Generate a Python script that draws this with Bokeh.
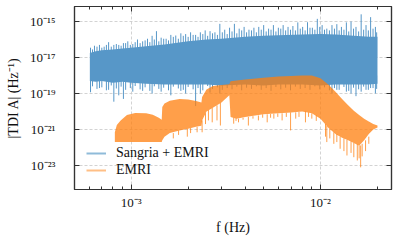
import numpy as np
from bokeh.plotting import figure
from bokeh.models import (FixedTicker, CustomJSTickFormatter, LogAxis, Legend,
                          LegendItem, Range1d, CustomLabelingPolicy)
from bokeh.embed import file_html
from bokeh.resources import INLINE

# ---------------- data ----------------
blue_f = [6.05e-4, 6.5e-4, 7e-4, 8e-4, 9e-4, 1e-3, 1.2e-3, 1.5e-3, 2e-3, 2.5e-3,
          3e-3, 4e-3, 5e-3, 6e-3, 8e-3, 1e-2, 1.2e-2, 1.5e-2, 1.8e-2, 2.0e-2]
blue_top = [1.78e-17, 2.24e-17, 2.5e-17, 2.8e-17, 3.2e-17, 3.5e-17, 4.2e-17, 5.2e-17,
            8.0e-17, 1.0e-16, 1.1e-16, 1.4e-16, 1.6e-16, 1.7e-16, 1.9e-16, 2.0e-16,
            1.9e-16, 1.6e-16, 1.4e-16, 1.4e-16]
blue_bot = [5.0e-19, 4.5e-19, 5.0e-19, 4.0e-19, 4.5e-19, 4.0e-19, 3.5e-19, 3.2e-19,
            3.2e-19, 3.2e-19, 2.8e-19, 3.2e-19, 2.8e-19, 3.2e-19, 3.2e-19, 2.8e-19,
            3.2e-19, 3.2e-19, 3.2e-19, 3.5e-19]

blue_spike_f = [6.1e-4, 6.4e-4, 6.8e-4, 7.2e-4, 7.6e-4, 8.1e-4, 8.6e-4, 9.1e-4, 9.6e-4,
                1.02e-3, 1.08e-3, 1.15e-3, 1.22e-3, 1.29e-3, 1.36e-3, 1.44e-3, 1.53e-3,
                1.62e-3, 1.72e-3, 1.83e-3, 1.94e-3, 2.06e-3, 2.19e-3, 2.32e-3, 2.46e-3,
                2.61e-3, 2.77e-3, 2.94e-3, 3.12e-3, 3.31e-3, 3.51e-3, 3.72e-3, 3.95e-3,
                4.19e-3, 4.45e-3, 4.72e-3, 5.01e-3, 5.32e-3, 5.64e-3, 5.99e-3, 6.35e-3,
                6.74e-3, 7.15e-3, 7.59e-3, 8.05e-3, 8.54e-3, 9.06e-3, 9.62e-3, 1.02e-2,
                1.08e-2, 1.15e-2, 1.22e-2, 1.29e-2, 1.37e-2, 1.45e-2, 1.54e-2, 1.64e-2,
                1.74e-2, 1.84e-2, 1.95e-2]
blue_spike_peak = [3.5e-17, 4.5e-17, 5.0e-17, 4.0e-17, 7.1e-17, 5.0e-17, 5.0e-17, 6.3e-17,
                   7.9e-17, 5.6e-17, 1.0e-16, 7.9e-17, 1.1e-16, 1.6e-16, 2.9e-16, 1.26e-16,
                   1.1e-16, 1.8e-16, 1.66e-16, 2.2e-16, 2.0e-16, 2.5e-16, 1.8e-16, 2.5e-16,
                   3.2e-16, 2.9e-16, 2.5e-16, 7.4e-16, 3.5e-16, 4.5e-16, 7.4e-16, 4.0e-16,
                   5.0e-16, 3.5e-16, 4.5e-16, 5.0e-16, 6.3e-16, 4.0e-16, 6.3e-16, 4.5e-16,
                   6.3e-16, 5.0e-16, 5.6e-16, 8.9e-16, 5.0e-16, 9.1e-16, 4.5e-16, 1.4e-15,
                   6.3e-16, 4.0e-16, 6.3e-16, 7.1e-16, 5.0e-16, 8.9e-16, 1.0e-15, 5.0e-16,
                   2.5e-15, 6.3e-16, 1.74e-15, 5.0e-16]
blue_dip_f = [6.1e-4, 6.8e-4, 7.6e-4, 8.1e-4, 8.6e-4, 9.1e-4, 1.02e-3, 1.15e-3, 1.29e-3,
              1.44e-3, 1.62e-3, 1.83e-3, 1.94e-3, 2.19e-3, 2.32e-3, 2.61e-3, 2.94e-3,
              1.15e-2, 1.22e-2, 1.37e-2, 1.45e-2, 1.54e-2, 1.64e-2, 1.74e-2, 1.84e-2, 1.95e-2]
blue_dip = [1.17e-19, 2.0e-19, 1.6e-19, 3.5e-20, 7.9e-20, 5.0e-20, 1.26e-19, 1.4e-19,
            1.0e-19, 1.26e-19, 7.9e-20, 1.4e-19, 1.0e-19, 2.0e-20, 1.0e-19, 1.12e-19,
            1.0e-19, 1.0e-19, 1.6e-19, 1.26e-19, 1.0e-19, 7.1e-20, 1.26e-19, 1.6e-19,
            2.0e-19, 1.0e-19]
blue_mid_f = [6.25e-4, 6.6e-4, 7.0e-4, 7.4e-4, 7.85e-4, 8.35e-4, 8.85e-4, 9.35e-4, 9.9e-4,
              1.05e-3, 1.115e-3, 1.185e-3, 1.255e-3, 1.325e-3, 1.4e-3, 1.485e-3, 1.575e-3,
              1.67e-3, 1.775e-3, 1.885e-3, 2.0e-3, 2.125e-3, 2.255e-3, 2.39e-3, 2.535e-3,
              2.69e-3, 2.855e-3, 3.03e-3, 3.215e-3, 3.41e-3, 3.615e-3, 3.835e-3, 4.07e-3,
              4.32e-3, 4.585e-3, 4.865e-3, 5.165e-3, 5.48e-3, 5.815e-3, 6.17e-3, 6.545e-3,
              6.945e-3, 7.37e-3, 7.82e-3, 8.295e-3, 8.8e-3, 9.34e-3, 9.91e-3, 1.05e-2,
              1.115e-2, 1.185e-2, 1.255e-2, 1.33e-2, 1.41e-2, 1.495e-2, 1.59e-2, 1.69e-2,
              1.79e-2, 1.895e-2, 1.98e-2]
blue_mid_peak = [2.8e-17, 4.0e-17, 3.5e-17, 5.0e-17, 4.0e-17, 5.6e-17, 4.5e-17, 6.3e-17,
                 5.0e-17, 7.1e-17, 6.3e-17, 8.9e-17, 7.1e-17, 1.0e-16, 7.9e-17, 1.1e-16,
                 8.9e-17, 1.4e-16, 1.1e-16, 1.6e-16, 1.4e-16, 1.8e-16, 1.4e-16, 2.0e-16,
                 1.6e-16, 2.2e-16, 1.8e-16, 2.5e-16, 2.0e-16, 2.8e-16, 2.2e-16, 3.2e-16,
                 2.5e-16, 3.2e-16, 2.5e-16, 3.5e-16, 2.8e-16, 3.5e-16, 2.8e-16, 4.0e-16,
                 3.2e-16, 3.5e-16, 3.2e-16, 4.0e-16, 3.2e-16, 4.5e-16, 3.5e-16, 5.0e-16,
                 3.5e-16, 3.2e-16, 4.0e-16, 3.2e-16, 3.5e-16, 2.8e-16, 4.0e-16, 2.8e-16,
                 3.5e-16, 3.2e-16, 4.0e-16, 2.5e-16]
blue_mid_dip = [2.5e-19, 1.8e-19, 2.2e-19, 1.5e-19, 2.8e-19, 1.9e-19, 2.4e-19, 1.6e-19,
                2.0e-19, 2.6e-19, 1.7e-19, 2.2e-19, 1.4e-19, 2.5e-19, 1.8e-19, 2.1e-19,
                1.5e-19, 2.4e-19, 1.9e-19, 1.6e-19, 2.3e-19, 1.7e-19, 2.0e-19, 1.5e-19,
                2.6e-19, 1.8e-19, 2.2e-19, 1.6e-19, 2.0e-19, 1.7e-19, 2.4e-19, 1.5e-19,
                2.1e-19, 1.8e-19, 2.5e-19, 1.6e-19, 2.0e-19, 1.4e-19, 2.3e-19, 1.7e-19,
                2.1e-19, 1.5e-19, 2.4e-19, 1.8e-19, 2.0e-19, 1.6e-19, 2.5e-19, 1.7e-19,
                2.2e-19, 1.5e-19, 2.0e-19, 1.6e-19, 2.3e-19, 1.4e-19, 2.1e-19, 1.7e-19,
                2.4e-19, 1.6e-19, 2.0e-19, 1.8e-19]
blue_up_base = 1e-17
blue_down_base = 1e-18

orange_f = [8.2e-4, 8.4e-4, 8.8e-4, 9.5e-4, 1.05e-3, 1.2e-3, 1.3e-3, 1.4e-3, 1.45e-3,
            1.46e-3, 1.5e-3, 1.6e-3, 1.8e-3, 2.0e-3, 2.2e-3, 2.35e-3, 2.37e-3, 2.5e-3,
            2.7e-3, 3.0e-3, 3.3e-3, 3.35e-3, 3.6e-3, 4.0e-3, 5.0e-3, 6.0e-3, 7.0e-3,
            8.0e-3, 9.0e-3, 1.0e-2, 1.1e-2, 1.2e-2, 1.3e-2, 1.4e-2, 1.5e-2, 1.6e-2,
            1.7e-2, 1.8e-2, 1.9e-2, 2.0e-2]
orange_top = [7.1e-22, 1.8e-21, 3.2e-21, 6.3e-21, 8.3e-21, 7.9e-21, 6.6e-21, 4.5e-21,
              3.5e-21, 1.8e-20, 2.8e-20, 4.0e-20, 5.0e-20, 4.7e-20, 3.8e-20, 3.2e-20,
              6.3e-20, 1.66e-19, 2.6e-19, 3.0e-19, 3.3e-19, 4.8e-19, 5.2e-19, 6.0e-19,
              7.6e-19, 8.9e-19, 9.5e-19, 1.0e-18, 1.0e-18, 7.1e-19, 3.2e-19, 1.26e-19,
              5.0e-20, 2.2e-20, 1.1e-20, 6.3e-21, 4.0e-21, 2.8e-21, 2.0e-21, 1.66e-21]
orange_bot = [2.0e-22, 2.0e-22, 2.0e-22, 2.0e-22, 2.0e-22, 2.0e-22, 2.0e-22, 2.0e-22,
              2.0e-22, 2.5e-22, 4.0e-22, 6.3e-22, 8.9e-22, 1.1e-21, 1.4e-21, 1.6e-21,
              3.2e-21, 1.0e-20, 1.6e-20, 3.2e-20, 7.9e-20, 5.0e-21, 4.0e-21, 5.0e-21,
              7.1e-21, 7.9e-21, 8.9e-21, 1.0e-20, 7.9e-21, 4.0e-21, 1.26e-21, 5.6e-22,
              3.5e-22, 2.5e-22, 1.8e-22, 1.26e-22, 2.5e-22, 5.6e-22, 1.0e-21, 1.3e-21]

orange_spike_f = [1.67e-3, 1.78e-3, 1.98e-3, 2.06e-3, 2.23e-3, 2.37e-3, 2.47e-3, 2.56e-3,
                  2.68e-3, 2.84e-3, 2.96e-3, 3.48e-3, 3.58e-3, 3.69e-3, 3.9e-3, 4.16e-3,
                  4.4e-3, 4.7e-3, 4.95e-3, 5.23e-3, 5.45e-3, 5.67e-3, 5.95e-3, 6.27e-3,
                  6.6e-3, 6.95e-3, 7.4e-3, 7.7e-3, 8.33e-3, 8.65e-3, 9.0e-3, 9.5e-3,
                  1.063e-2, 1.08e-2, 1.12e-2, 1.176e-2, 1.22e-2, 1.27e-2, 1.33e-2, 1.38e-2,
                  1.45e-2, 1.5e-2, 1.565e-2, 1.6e-2, 1.63e-2, 1.66e-2, 1.73e-2, 1.8e-2]
orange_spike_base = [6.3e-22, 8.9e-22, 1.1e-21, 1.2e-21, 1.4e-21, 3.2e-21, 8.0e-21, 1.2e-20,
                     1.6e-20, 2.2e-20, 3.0e-20, 4.5e-21, 4.2e-21, 4.0e-21, 4.5e-21, 5.0e-21,
                     5.5e-21, 6.0e-21, 7.0e-21, 7.0e-21, 7.2e-21, 7.5e-21, 7.8e-21, 8.0e-21,
                     8.5e-21, 8.9e-21, 9.0e-21, 9.5e-21, 1.0e-20, 9.0e-21, 7.9e-21, 6.0e-21,
                     2.0e-21, 1.6e-21, 1.1e-21, 7.0e-22, 5.6e-22, 4.0e-22, 3.2e-22, 2.7e-22,
                     2.2e-22, 1.8e-22, 1.5e-22, 1.3e-22, 1.3e-22, 1.6e-22, 2.5e-22, 4.0e-22]
orange_spike_low = [3.2e-22, 5.0e-22, 4.0e-22, 6.3e-22, 7.0e-22, 7.0e-22, 2.0e-21, 3.2e-21,
                    2.5e-21, 3.2e-21, 1.66e-21, 2.1e-21, 3.0e-21, 2.5e-21, 3.5e-21, 1.66e-21,
                    4.0e-21, 3.2e-21, 4.5e-21, 2.5e-21, 4.5e-21, 4.0e-21, 5.0e-21, 3.2e-21,
                    5.0e-21, 8.9e-22, 4.0e-21, 5.0e-21, 2.5e-21, 5.0e-21, 4.0e-21, 3.0e-21,
                    4.0e-22, 2.0e-22, 3.2e-22, 1.6e-22, 2.0e-22, 8.5e-23, 6.3e-23, 3.6e-23,
                    5.0e-23, 2.9e-23, 1.9e-23, 2.5e-23, 7.9e-24, 3.2e-23, 6.3e-23, 1.6e-22]

series_labels = ["Sangria + EMRI", "EMRI"]

x_ticks = [1e-3, 1e-2]
x_tick_labels = ["10\u207b\u00b3", "10\u207b\u00b2"]
x_minor = [6e-4, 7e-4, 8e-4, 9e-4, 2e-3, 3e-3, 4e-3, 5e-3, 6e-3, 7e-3, 8e-3, 9e-3, 2e-2]
y_ticks = [1e-23, 1e-21, 1e-19, 1e-17, 1e-15]
y_tick_labels = ["10\u207b\u00b2\u00b3", "10\u207b\u00b2\u00b9", "10\u207b\u00b9\u2079",
                 "10\u207b\u00b9\u2077", "10\u207b\u00b9\u2075"]

# ---------------- figure ----------------
FONT = "Liberation Serif"
BLUE = "#5797c8"
ORANGE = "#ff7f0e"
FRAME = "#333333"

p = figure(frame_width=317, frame_height=183, x_axis_type="log", y_axis_type="log",
           x_range=Range1d(5.02e-4, 2.372e-2), y_range=Range1d(4.64e-25, 6.8e-15),
           output_backend="svg", toolbar_location=None,
           min_border_left=74, min_border_right=6, min_border_top=6, min_border_bottom=51)
p.background_fill_color = "white"
p.border_fill_color = "white"
p.outline_line_color = FRAME
p.outline_line_width = 1.2

fmt_code = """
for (let i = 0; i < tv.length; i++) {
  if (Math.abs(Math.log10(tick) - Math.log10(tv[i])) < 1e-6) { return tl[i]; }
}
return "";
"""


def style_axis(ax, ticks, minor, labels, show):
    ax.ticker = FixedTicker(ticks=ticks, minor_ticks=minor)
    ax.formatter = CustomJSTickFormatter(args=dict(tv=ticks, tl=labels), code=fmt_code)
    ax.major_tick_in = 5
    ax.major_tick_out = 0
    ax.minor_tick_in = 3
    ax.minor_tick_out = 0
    ax.major_tick_line_color = FRAME
    ax.minor_tick_line_color = FRAME
    ax.axis_line_color = FRAME
    ax.axis_line_width = 1.2
    if show:
        ax.major_label_text_font = FONT
        ax.major_label_text_font_size = "13px"
        ax.major_label_text_color = "#111111"
        ax.axis_label_text_font = FONT
        ax.axis_label_text_font_size = "14px"
        ax.axis_label_text_font_style = "normal"
        ax.axis_label_text_color = "#111111"
    else:
        ax.major_label_text_font_size = "0px"
        ax.major_label_standoff = 0
        ax.major_label_policy = CustomLabelingPolicy(
            code="for (const i of indices) { indices.unset(i) }\nreturn indices")
        ax.axis_label = None


style_axis(p.xaxis[0], x_ticks, x_minor, x_tick_labels, True)
style_axis(p.yaxis[0], y_ticks, [], y_tick_labels, True)
p.xaxis[0].axis_label = "f (Hz)"
p.yaxis[0].axis_label = "|TDI A| (Hz\u207b\u00b9)"
p.xaxis[0].major_label_standoff = 5
p.xaxis[0].axis_label_standoff = 7
p.yaxis[0].major_label_standoff = 19
p.yaxis[0].axis_label_standoff = 6

top_ax = LogAxis()
right_ax = LogAxis()
style_axis(top_ax, x_ticks, x_minor, x_tick_labels, False)
style_axis(right_ax, y_ticks, [], y_tick_labels, False)
p.add_layout(top_ax, "above")
p.add_layout(right_ax, "right")

p.xgrid.ticker = FixedTicker(ticks=x_ticks)
p.ygrid.ticker = FixedTicker(ticks=y_ticks)
for g in (p.xgrid, p.ygrid):
    g.grid_line_color = "#c8c8c8"
    g.grid_line_dash = "3 2"
    g.grid_line_width = 0.8

# ---------------- data marks ----------------
p.segment(x0=blue_spike_f, y0=[blue_up_base] * len(blue_spike_f),
          x1=blue_spike_f, y1=blue_spike_peak, line_color=BLUE, line_width=1)
p.segment(x0=blue_mid_f, y0=[blue_up_base] * len(blue_mid_f),
          x1=blue_mid_f, y1=blue_mid_peak, line_color=BLUE, line_width=1)
p.segment(x0=blue_dip_f, y0=[blue_down_base] * len(blue_dip_f),
          x1=blue_dip_f, y1=blue_dip, line_color=BLUE, line_width=1)
p.segment(x0=blue_mid_f, y0=[blue_down_base] * len(blue_mid_f),
          x1=blue_mid_f, y1=blue_mid_dip, line_color=BLUE, line_width=1)
p.varea(x=blue_f, y1=blue_bot, y2=blue_top, fill_color=BLUE, fill_alpha=1.0)

p.varea(x=orange_f, y1=orange_bot, y2=orange_top, fill_color=ORANGE, fill_alpha=0.75)
p.segment(x0=orange_spike_f, y0=orange_spike_base, x1=orange_spike_f, y1=orange_spike_low,
          line_color=ORANGE, line_alpha=0.75, line_width=1)

lb = p.line(x=blue_f[:1], y=blue_bot[:1], line_color="#1f77b4", line_alpha=0.5, line_width=2)
lo = p.line(x=orange_f[:1], y=orange_bot[:1], line_color=ORANGE, line_alpha=0.5, line_width=2)
legend = Legend(items=[LegendItem(label=series_labels[0], renderers=[lb]),
                       LegendItem(label=series_labels[1], renderers=[lo])],
                location=(12, 11))
legend.border_line_color = None
legend.background_fill_alpha = 0
legend.label_text_font = FONT
legend.label_text_font_size = "14px"
legend.label_text_color = "#111111"
legend.glyph_width = 20
legend.glyph_height = 16
legend.label_height = 16
legend.label_standoff = 10
legend.spacing = 1
legend.padding = 0
legend.margin = 0
p.add_layout(legend)

open("out.html", "w").write(file_html(p, INLINE))
